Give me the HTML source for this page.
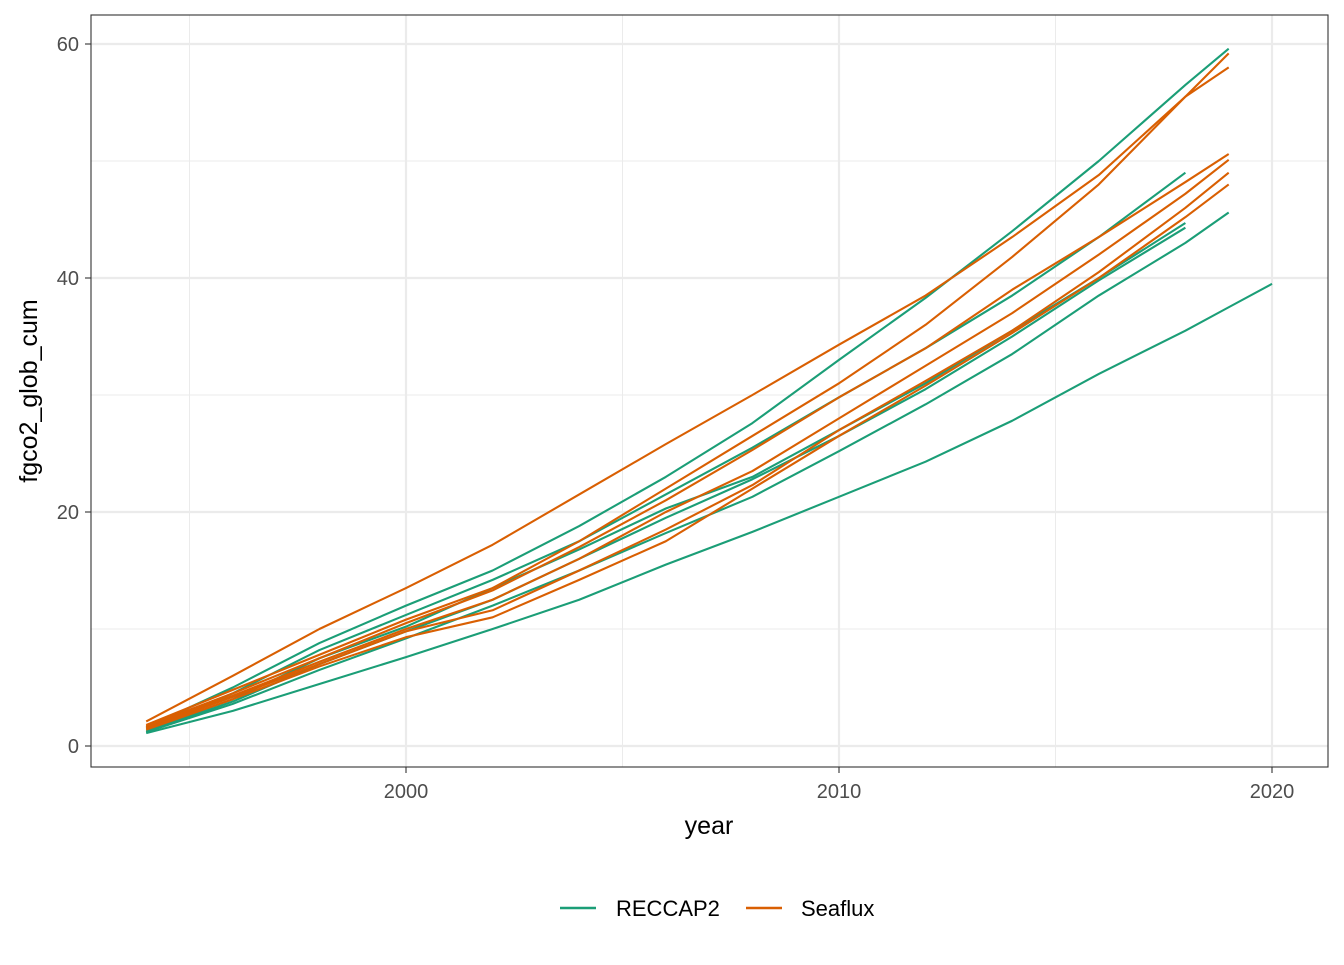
<!DOCTYPE html>
<html><head><meta charset="utf-8"><style>
body{margin:0;background:#fff;font-family:"Liberation Sans",sans-serif}
</style></head><body>
<svg id="chart" width="1344" height="960" xmlns="http://www.w3.org/2000/svg">
<rect x="0" y="0" width="1344" height="960" fill="#fff"/>
<g id="grid"></g>
<g id="series"></g>
<rect x="91" y="15" width="1237" height="752" fill="none" stroke="#333" stroke-width="1.1"/>
<g id="axes" font-size="20" fill="#4d4d4d"></g>
<text x="709" y="834" text-anchor="middle" font-size="25" fill="#000">year</text>
<text transform="translate(37,391) rotate(-90)" text-anchor="middle" font-size="25" fill="#000">fgco2_glob_cum</text>
<g>
<line x1="560" y1="908" x2="596" y2="908" stroke="#1b9e77" stroke-width="2.5"/>
<text x="616" y="916" font-size="22" fill="#000">RECCAP2</text>
<line x1="746" y1="908" x2="782" y2="908" stroke="#d95f02" stroke-width="2.5"/>
<text x="801" y="916" font-size="22" fill="#000">Seaflux</text>
</g>
</svg>
<script>
const years=[1994,1996,1998,2000,2002,2004,2006,2008,2010,2012,2014,2016,2018,2019,2020];
const seafluxSeries=[
[2.1,6,10,13.5,17.2,21.5,25.8,30,34.3,38.5,43.5,48.8,55.5,58,null],
[1.8,4.8,7.8,10.8,13.5,17.5,22,26.5,31,36,41.8,48,55.5,59.2,null],
[1.7,4.5,7.5,10.5,13.3,17,21,25.3,29.8,34,39,43.5,48.2,50.6,null],
[1.6,4.3,7.2,10,12.5,16,20,23.5,28,32.5,37,42,47.2,50.1,null],
[1.5,4.2,7,9.8,11.6,15,18.5,22.3,27,31.2,35.5,40.5,46,49,null],
[1.4,4,6.8,9.3,11,14.2,17.5,22,26.5,30.8,35.3,40,45.2,48,null]];
const reccapSeries=[
[1.6,5,8.8,12,15,18.8,23,27.6,33,38.3,44,50,56.5,59.6,null],
[1.5,4.5,8.2,11.2,14.2,17.5,21.5,25.5,29.8,34,38.5,43.5,49,null,null],
[1.3,4,7.5,10.2,13.5,16.8,20.3,23,27,31,35.5,40,44.7,null,null],
[1.2,3.8,7,9.8,12.5,16,19.5,22.8,26.5,30.5,35,39.8,44.3,null,null],
[1.2,3.6,6.5,9.2,12,15,18.2,21.3,25.2,29.2,33.5,38.5,43,45.6,null],
[1.1,3,5.3,7.6,10,12.5,15.5,18.3,21.3,24.3,27.8,31.8,35.5,37.5,39.5]];
const yTicks=[0,20,40,60], yMinor=[10,30,50];
const xTicks=[2000,2010,2020], xMinor=[1995,2005,2015];
const NS="http://www.w3.org/2000/svg";
const xs=v=>406+(v-2000)*43.3, ys=v=>746-v*11.7;
function mk(t,a,p){const e=document.createElementNS(NS,t);for(const k in a)e.setAttribute(k,a[k]);p.appendChild(e);return e;}
const g=document.getElementById('grid'),ax=document.getElementById('axes'),s=document.getElementById('series');
yMinor.forEach(v=>{const l=mk('line',{x1:91,x2:1328,y1:ys(v),y2:ys(v),stroke:'#ebebeb','stroke-width':1},g);

});
xMinor.forEach(v=>{const l=mk('line',{y1:15,y2:767,x1:xs(v),x2:xs(v),stroke:'#ebebeb','stroke-width':1},g);

});
yTicks.forEach(v=>{const l=mk('line',{x1:91,x2:1328,y1:ys(v),y2:ys(v),stroke:'#ebebeb','stroke-width':2.2},g);


const tk=mk('line',{x1:85,x2:91,y1:ys(v),y2:ys(v),stroke:'#333','stroke-width':1.1},ax);


const t=mk('text',{x:79,y:ys(v)+7,'text-anchor':'end'},ax);t.textContent=v;

});
xTicks.forEach(v=>{const l=mk('line',{y1:15,y2:767,x1:xs(v),x2:xs(v),stroke:'#ebebeb','stroke-width':2.2},g);


const tk=mk('line',{y1:767,y2:773,x1:xs(v),x2:xs(v),stroke:'#333','stroke-width':1.1},ax);


const t=mk('text',{x:xs(v),y:798,'text-anchor':'middle'},ax);t.textContent=v;

});
function draw(arr,color,name){arr.forEach((vals,i)=>{const pts=[];vals.forEach((v,j)=>{if(v!==null)pts.push(xs(years[j])+','+ys(v));});
const p=mk('polyline',{points:pts.join(' '),fill:'none',stroke:color,'stroke-width':2.1,'stroke-linejoin':'round'},s);

});}
draw(reccapSeries,'#1b9e77','reccap2');
draw(seafluxSeries,'#d95f02','seaflux');
</script>
</body></html>
